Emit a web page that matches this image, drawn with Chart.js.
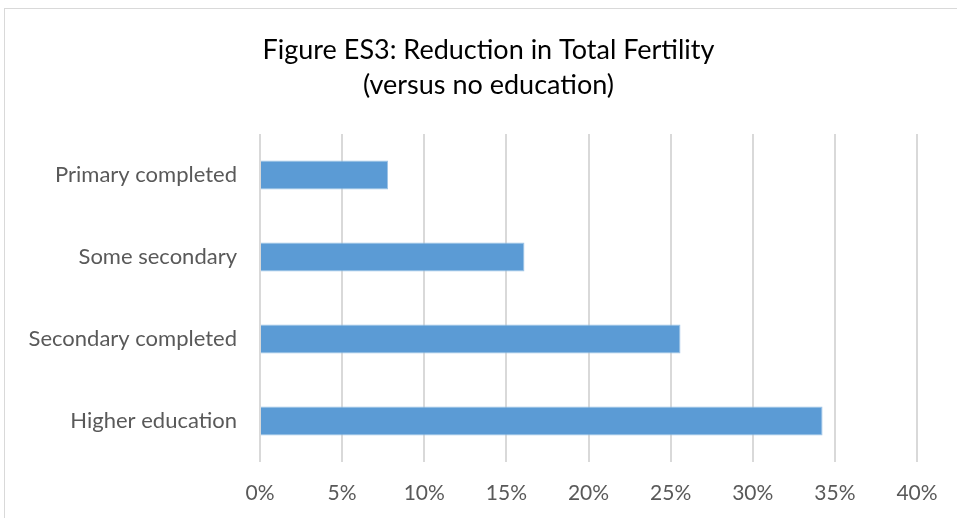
<!DOCTYPE html>
<html>
<head>
<meta charset="utf-8">
<script src="https://cdn.jsdelivr.net/npm/chart.js@4"></script>
<style>
  html, body { margin: 0; padding: 0; background: #fff; overflow: hidden; }
  #frame {
    position: absolute; left: 4px; top: 8px; width: 1000px; height: 600px;
    border-left: 1px solid #d9d9d9; border-top: 1px solid #d9d9d9;
  }
  #wrap { position: absolute; left: 0; top: 0; width: 957px; height: 518px; }
</style>
</head>
<body>
<div id="frame"></div>
<div id="wrap"><canvas id="fertility-chart"></canvas></div>
<script>
// data
const categories = ["Primary completed", "Some secondary", "Secondary completed", "Higher education"];
const reduction = [7.8, 16.1, 25.6, 34.25];
const titleLines = ["Figure ES3: Reduction in Total Fertility", "(versus no education)"];
const xMin = 0;
const xMax = 40;
const xStep = 5;

const textGray = "#595959";
const fontFamily = "Lato, 'Open Sans', sans-serif";

// title drawn by hand so it sits centred on the (cropped) frame, not the plot
const pageTitle = {
  id: "pageTitle",
  afterDraw(chart) {
    const ctx = chart.ctx;
    ctx.save();
    ctx.fillStyle = "#000";
    ctx.font = "27px " + fontFamily;
    ctx.textAlign = "center";
    ctx.textBaseline = "middle";
    titleLines.forEach((line, i) => {
      ctx.fillText(line, chart.width / 2 + 10, 50 + i * 35);
    });
    ctx.restore();
  },
};

const fertilityCanvas = document.getElementById("fertility-chart");

const fertilityData = {
  labels: categories,
  datasets: [
    {
      data: reduction,
      backgroundColor: "#5B9BD5",
      borderColor: "#9DC3E6",
      borderWidth: 1,
      barPercentage: 0.355,
      categoryPercentage: 1,
    },
  ],
};

const fertilityOptions = {
  indexAxis: "y",
  responsive: true,
  maintainAspectRatio: false,
  animation: { duration: 0 },
  layout: {
    padding: { top: 134, right: 40, bottom: 0, left: 0 },
  },
  scales: {
    x: {
      min: xMin,
      max: xMax,
      grid: { color: "#d9d9d9", lineWidth: 2, drawTicks: false },
      border: { display: false },
      ticks: {
        stepSize: xStep,
        padding: 19,
        color: textGray,
        font: { family: fontFamily, size: 21 },
        callback: (v) => v + "%",
      },
      afterFit: (scale) => { scale.height = 56; },
    },
    y: {
      grid: { display: false, drawTicks: false },
      border: { display: false },
      ticks: {
        padding: 23,
        color: textGray,
        font: { family: fontFamily, size: 22 },
      },
      afterFit: (scale) => { scale.width = 260; },
    },
  },
  plugins: {
    legend: { display: false },
    tooltip: { enabled: false },
    title: { display: false },
  },
};

let fertilityChart = new Chart(fertilityCanvas, {
  type: "bar",
  data: fertilityData,
  options: fertilityOptions,
  plugins: [pageTitle],
});
</script>
</body>
</html>
